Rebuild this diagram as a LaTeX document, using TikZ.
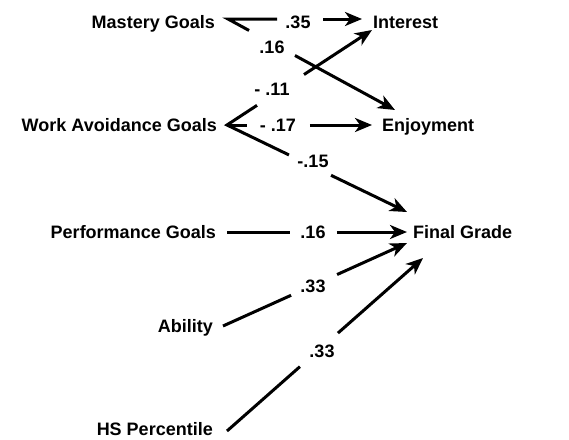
\documentclass[tikz,border=0pt]{standalone}
\usepackage{fontspec}
\setmainfont{Liberation Sans}
\usetikzlibrary{arrows.meta,calc}
\begin{document}
\begin{tikzpicture}[x=1pt,y=-1pt,
  txt/.style={font=\bfseries\fontsize{18}{20}\selectfont, inner sep=0pt},
  src/.style={txt, anchor=base east},
  dst/.style={txt, anchor=base west},
  coef/.style={txt, anchor=base},
  link/.style={line width=3pt, line join=miter},
  arr/.style={link, -{Stealth[length=17pt,width=14pt,inset=5pt]}}]
\useasboundingbox[fill=white] (0,0) rectangle (569,439);

% variables
\node[src] (mg) at (215,28.3) {Mastery Goals};
\node[src] (wa) at (217,131.5) {Work Avoidance Goals};
\node[src] (pg) at (216,238) {Performance Goals};
\node[src] (ab) at (213,332) {Ability};
\node[src] (hs) at (213,435.5) {HS Percentile};
\node[dst] (int) at (373,28.3) {Interest};
\node[dst] (enj) at (382,131.5) {Enjoyment};
\node[dst] (fg) at (413,238) {Final Grade};

% path coefficients
\node[coef] (c1) at (298,28.3) {.35};
\node[coef] (c2) at (272,53) {.16};
\node[coef] (c3) at (272,95) {- .11};
\node[coef] (c4) at (278,131.5) {- .17};
\node[coef] (c5) at (313,167) {-.15};
\node[coef] (c6) at (313,238) {.16};
\node[coef] (c7) at (313,292) {.33};
\node[coef] (c8) at (322,357) {.33};

% start points beside the predictors
\coordinate (mgx) at (228,19);
\coordinate (wax) at (227,125);
\coordinate (pgx) at (227,232);
\coordinate (abx) at (223,326);
\coordinate (hsx) at (227,431);

% arrow tips beside the outcomes
\coordinate (intA) at (362,19);
\coordinate (intB) at (372,30);
\coordinate (enjA) at (395,110);
\coordinate (enjB) at (372,125);
\coordinate (fgA) at (407,212);
\coordinate (fgB) at (407,232);
\coordinate (fgC) at (407,243);
\coordinate (fgD) at (423,258);

% Mastery Goals
\path (mgx) -- (intA) coordinate[pos=.366] (a1) coordinate[pos=.709] (a2);
\path (mgx) -- (enjA) coordinate[pos=.126] (b1) coordinate[pos=.401] (b2);
\draw[link] (a1) -- (mgx) -- (b1);
\draw[arr] (a2) -- (intA);
\draw[arr] (b2) -- (enjA);

% Work Avoidance Goals
\path (wax) -- (intB) coordinate[pos=.207] (d1) coordinate[pos=.531] (d2);
\path (wax) -- (enjB) coordinate[pos=.138] (e1) coordinate[pos=.572] (e2);
\path (wax) -- (fgA) coordinate[pos=.344] (f1) coordinate[pos=.578] (f2);
\draw[link] (d1) -- (wax) -- (f1);
\draw[link] (wax) -- (e1);
\draw[arr] (d2) -- (intB);
\draw[arr] (e2) -- (enjB);
\draw[arr] (f2) -- (fgA);

% Performance Goals, Ability, HS Percentile
\path (pgx) -- (fgB) coordinate[pos=.35] (g1) coordinate[pos=.611] (g2);
\path (abx) -- (fgC) coordinate[pos=.37] (h1) coordinate[pos=.62] (h2);
\path (hsx) -- (fgD) coordinate[pos=.372] (k1) coordinate[pos=.566] (k2);
\draw[link] (pgx) -- (g1);
\draw[arr] (g2) -- (fgB);
\draw[link] (abx) -- (h1);
\draw[arr] (h2) -- (fgC);
\draw[link] (hsx) -- (k1);
\draw[arr] (k2) -- (fgD);
\end{tikzpicture}
\end{document}
